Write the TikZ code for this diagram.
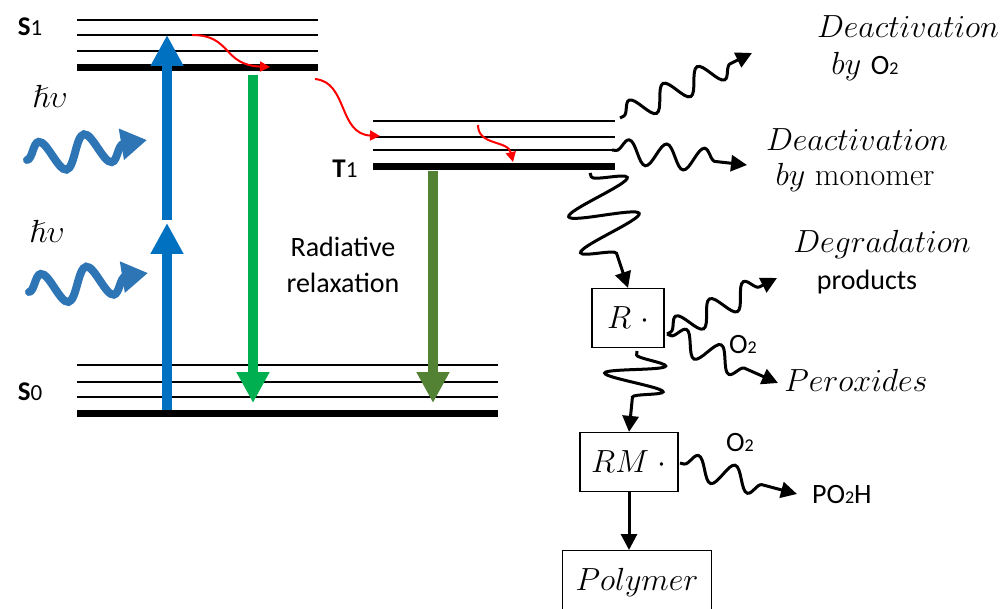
\RequirePackage{fix-cm}
\documentclass[tikz,border=0pt]{standalone}
\usepackage{amsmath,amssymb}
\usepackage{fontspec}
\usepackage{tikz}
\usetikzlibrary{arrows.meta,decorations.pathmorphing,positioning}

\newfontfamily\calibri{Carlito}
\definecolor{excblue}{HTML}{0070C0}
\definecolor{fluogreen}{HTML}{00B050}
\definecolor{phosgreen}{HTML}{548235}
\definecolor{photonblue}{HTML}{2E75B6}

\tikzset{
  lvl/.style={line width=1pt},
  lvlbold/.style={line width=3.5pt},
  bigarrow/.style={line width=5pt, -{Triangle[length=15.5pt,width=15.5pt]}},
  relax/.style={red, line width=1pt, -{Triangle[length=5pt,width=5pt]}},
  wave/.style={line width=1.5pt, -{Triangle[length=8pt,width=8pt]},
    decorate, decoration={snake, amplitude=6pt, segment length=19pt, pre length=2pt, post length=9pt}},
  photon/.style={photonblue, line width=4pt, line cap=round, -{Triangle[length=13pt,width=15pt]},
    decorate, decoration={snake, amplitude=8pt, segment length=23pt, post length=5pt}},
  box/.style={draw, line width=0.6pt, inner sep=0pt},
  sans/.style={font=\calibri\fontsize{14}{18}\selectfont},
  lbl/.style={font=\calibri\fontsize{13.5}{16}\selectfont},
  ital/.style={font=\fontsize{16}{19}\selectfont}
}

\begin{document}
\begin{tikzpicture}[x=0.5pt, y=-0.5pt]
  \useasboundingbox (0,0) rectangle (1006,609);

  % energy levels
  \foreach \y in {20,35,51} { \draw[lvl] (77,\y) -- (318,\y); }
  \draw[lvlbold] (77,67.5) -- (318,67.5);
  \foreach \y in {365,382,397} { \draw[lvl] (77,\y) -- (498,\y); }
  \draw[lvlbold] (77,413.5) -- (498,413.5);
  \foreach \y in {121,137,150} { \draw[lvl] (373,\y) -- (615,\y); }
  \draw[lvlbold] (373,167) -- (615,167);

  \node[lbl] (S1) at (30,27) {\textbf{S}{\fontsize{11.5}{12}\selectfont 1}};
  \node[lbl] (S0) at (30,392) {\textbf{S}{\fontsize{11.5}{12}\selectfont 0}};
  \node[lbl] (T1) at (345,169) {\textbf{T}{\fontsize{11.5}{12}\selectfont 1}};

  \coordinate (s0top) at (167,410);
  \coordinate (midtip) at (167,223);
  \coordinate (midbase) at (167,220);
  \coordinate (s1tip) at (167,35);
  \coordinate (s1low) at (253,75);
  \coordinate (s0fluo) at (253,403);
  \coordinate (t1low) at (433,171);
  \coordinate (s0phos) at (433,403);

  % absorption and emission
  \draw[bigarrow, excblue] (s0top) -- (midtip);
  \draw[bigarrow, excblue] (midbase) -- (s1tip);
  \draw[bigarrow, fluogreen] (s1low) -- (s0fluo);
  \draw[bigarrow, phosgreen] (t1low) -- (s0phos);

  % photons
  \node[ital] (hv1) at (50,96) {$\hslash\upsilon$};
  \node[ital] (hv2) at (47,231) {$\hslash\upsilon$};
  \coordinate (ph1a) at (27,160);
  \coordinate (ph1b) at (147,140);
  \coordinate (ph2a) at (29,292);
  \coordinate (ph2b) at (148,273);
  \draw[photon] (ph1a) -- (ph1b);
  \draw[photon] (ph2a) -- (ph2b);

  \node[sans, align=center] (rad) at (343,265) {Radiative\\relaxation};

  % internal conversion / intersystem crossing
  \draw[relax] (192,35) .. controls (232,35) and (222,65) .. (270,67);
  \draw[relax] (315,79) .. controls (348,82) and (338,134) .. (380,136);
  \draw[relax] (478,125) .. controls (478,146) and (508,140) .. (513,162);

  % radicals
  \node[box, ital, minimum width=36pt, minimum height=29.5pt] (R) at (628,318) {$R\;\cdot$};
  \node[box, ital, minimum width=49pt, minimum height=29.5pt] (RM) at (629,462) {$RM\;\cdot$};
  \node[box, ital, minimum width=74.5pt, minimum height=32pt, anchor=north] (poly) at (637,550) {$Polymer$};

  \node[ital] (deO2a) at (908,27) {$Deactivation$};
  \node[ital] (deO2b) at (865,67) {$by$ {\calibri\fontsize{14}{18}\selectfont O{\small 2}}};
  \node[ital] (demoa) at (857,140) {$Deactivation$};
  \node[ital] (demob) at (855,178) {$by$ monomer};
  \node[ital] (dega) at (882,245) {$Degradation$};
  \node[sans] (degb) at (867,282) {products};
  \node[ital] (perox) at (856,380) {$Peroxides$};
  \node[sans] (oxR) at (743,345) {O{\small 2}};
  \node[sans] (oxRM) at (740,443) {O{\small 2}};
  \node[sans, anchor=west] (poh) at (805,495) {PO{\small 2}H};

  \coordinate (t1up) at (620,118);
  \coordinate (t1mid) at (612,150);
  \coordinate (t1bot) at (590,173);
  \coordinate (tipO2) at (752,53);
  \coordinate (tipmono) at (747,165);
  \coordinate (Rout) at (667,334);
  \coordinate (tipdeg) at (777,278);
  \coordinate (tipper) at (778,383);
  \coordinate (Rbot) at (637,351);
  \coordinate (RMout) at (680,463);
  \coordinate (tippoh) at (797,494);

  \draw[wave] (t1up) -- (tipO2);
  \draw[wave] (t1mid) -- (tipmono);
  \draw[wave, decoration={amplitude=17pt, segment length=19pt, post length=12pt}] (t1bot) -- (R.north);
  \draw[wave] (Rout) -- (tipdeg);
  \draw[wave] (Rout) -- (tipper);
  \draw[wave, decoration={amplitude=15pt, segment length=13pt, post length=14pt}] (Rbot) -- (RM.north);
  \draw[wave] (RMout) -- (tippoh);
  \draw[line width=1.5pt, -{Triangle[length=8pt,width=8pt]}] (RM.south) -- (RM.south |- poly.north);
\end{tikzpicture}
\end{document}
